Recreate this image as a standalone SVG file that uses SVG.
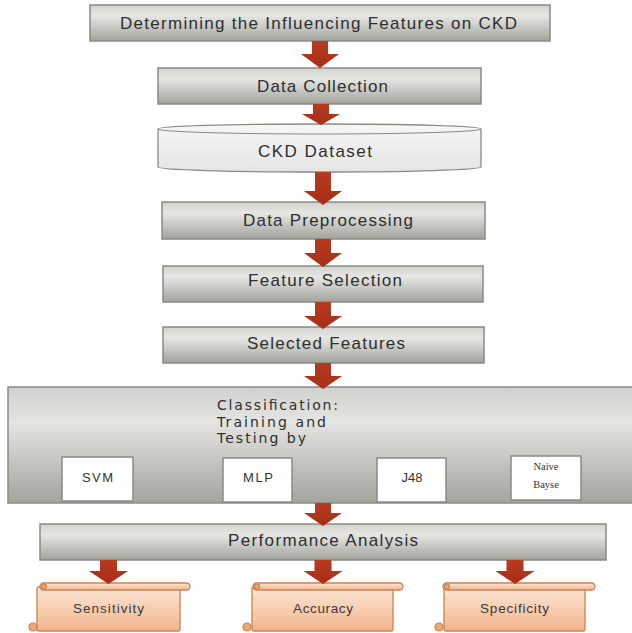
<svg xmlns="http://www.w3.org/2000/svg" width="632" height="633" viewBox="0 0 632 633">
<defs>
<linearGradient id="gBox" x1="0" y1="0" x2="0" y2="1">
<stop offset="0" stop-color="#d2d2ce"/>
<stop offset="0.3" stop-color="#e6e6e3"/>
<stop offset="1" stop-color="#a3a39d"/>
</linearGradient>
<linearGradient id="gBig" x1="0" y1="0" x2="0" y2="1">
<stop offset="0" stop-color="#d0d0cc"/>
<stop offset="0.3" stop-color="#e4e4e1"/>
<stop offset="1" stop-color="#a4a49e"/>
</linearGradient>
<linearGradient id="gCyl" x1="0" y1="0" x2="0" y2="1">
<stop offset="0" stop-color="#f7f7f7"/>
<stop offset="1" stop-color="#e4e4e4"/>
</linearGradient>
<linearGradient id="gScroll" x1="0" y1="0" x2="0" y2="1">
<stop offset="0" stop-color="#fce6d6"/>
<stop offset="1" stop-color="#f2b58c"/>
</linearGradient>
<linearGradient id="gArrow" x1="0" y1="0" x2="0" y2="1">
<stop offset="0" stop-color="#b83a1f"/>
<stop offset="1" stop-color="#a62f18"/>
</linearGradient>
</defs>
<style>
.box{fill:url(#gBox);stroke:#8a8a85;stroke-width:1.5}
.big{fill:url(#gBig);stroke:#8a8a85;stroke-width:1.5}
.wbox{fill:#ffffff;stroke:#8a8a85;stroke-width:1.5}
.cyl{fill:url(#gCyl);stroke:#8a8a85;stroke-width:1.3}
.scroll{fill:url(#gScroll);stroke:#d08050;stroke-width:1.3}
.curl{fill:#eba77c;stroke:#d08050;stroke-width:1.2}
.arr{fill:url(#gArrow)}
.t{font-family:"Liberation Sans",Arial,sans-serif;font-size:17px;fill:#2e2e2e;text-anchor:middle}
.tl{font-family:"DejaVu Sans","Liberation Sans",sans-serif;font-size:14px;fill:#2e2e2e}
.ts{font-family:"Liberation Sans",Arial,sans-serif;font-size:13px;fill:#333333;text-anchor:middle}
.tser{font-family:"Liberation Serif","Times New Roman",serif;font-size:10.5px;fill:#333333;text-anchor:middle}
.tsc{font-family:"Liberation Sans",Arial,sans-serif;font-size:13.5px;fill:#3a3a3a;text-anchor:middle}
</style>

<g id="n1">
<rect class="box" x="90" y="5" width="460" height="36"/>
<text class="t" x="318.5" y="29" textLength="397" lengthAdjust="spacing">Determining the Influencing Features on CKD</text>
</g>
<g id="n2">
<rect class="box" x="158" y="68" width="323" height="36"/>
<text class="t" x="322.5" y="92" textLength="131" lengthAdjust="spacing">Data Collection</text>
</g>
<g id="n3">
<path class="cyl" d="M158,129 A161.5,5 0 0 1 481,129 L481,167 A161.5,5 0 0 1 158,167 Z"/>
<path d="M158,129 A161.5,5 0 0 0 481,129" fill="none" stroke="#8a8a85" stroke-width="1"/>
<text class="t" x="315" y="157" textLength="114" lengthAdjust="spacing">CKD Dataset</text>
</g>
<g id="n4">
<rect class="box" x="162" y="202" width="323" height="37"/>
<text class="t" x="328" y="226" textLength="170" lengthAdjust="spacing">Data Preprocessing</text>
</g>
<g id="n5">
<rect class="box" x="163" y="266" width="320" height="36"/>
<text class="t" x="325" y="286" textLength="154" lengthAdjust="spacing">Feature Selection</text>
</g>
<g id="n6">
<rect class="box" x="163" y="327" width="321" height="36"/>
<text class="t" x="326" y="349" textLength="158" lengthAdjust="spacing">Selected Features</text>
</g>
<g id="n7">
<rect class="big" x="8" y="387" width="630" height="116"/>
<text class="tl" x="217" y="410" textLength="121" lengthAdjust="spacing">Classification:</text>
<text class="tl" x="217" y="426.5" textLength="109" lengthAdjust="spacing">Training and</text>
<text class="tl" x="217" y="443" textLength="89" lengthAdjust="spacing">Testing by</text>
</g>
<g id="svm">
<rect class="wbox" x="62" y="457" width="71" height="44"/>
<text class="ts" x="97.5" y="482" textLength="31" lengthAdjust="spacing">SVM</text>
</g>
<g id="mlp">
<rect class="wbox" x="223" y="458" width="69" height="44"/>
<text class="ts" x="258" y="482" textLength="30" lengthAdjust="spacing">MLP</text>
</g>
<g id="j48">
<rect class="wbox" x="377" y="458" width="69" height="44"/>
<text class="ts" x="412" y="482">J48</text>
</g>
<g id="nb">
<rect class="wbox" x="511" y="456" width="70" height="44"/>
<text class="tser" x="546" y="470">Naive</text>
<text class="tser" x="546" y="488">Bayse</text>
</g>
<g id="n8">
<rect class="box" x="40" y="524" width="566" height="36"/>
<text class="t" x="323" y="546" textLength="190" lengthAdjust="spacing">Performance Analysis</text>
</g>
<g id="s1">
<rect class="scroll" x="37" y="587" width="143" height="44" rx="2"/>
<rect class="scroll" x="40" y="583" width="150" height="7" rx="3.5"/>
<circle class="curl" cx="44" cy="586.5" r="2.5"/>
<circle class="curl" cx="33" cy="627" r="4"/>
<text class="tsc" x="108.5" y="613" textLength="71" lengthAdjust="spacing">Sensitivity</text>
</g>
<g id="s2">
<rect class="scroll" x="252" y="587" width="141" height="44" rx="2"/>
<rect class="scroll" x="253" y="583" width="150" height="7" rx="3.5"/>
<circle class="curl" cx="257" cy="586.5" r="2.5"/>
<circle class="curl" cx="247" cy="627" r="4"/>
<text class="tsc" x="323" y="613" textLength="60" lengthAdjust="spacing">Accuracy</text>
</g>
<g id="s3">
<rect class="scroll" x="444" y="587" width="141" height="44" rx="2"/>
<rect class="scroll" x="443" y="583" width="152" height="7" rx="3.5"/>
<circle class="curl" cx="447" cy="586.5" r="2.5"/>
<circle class="curl" cx="439" cy="627" r="4"/>
<text class="tsc" x="514.5" y="613" textLength="69" lengthAdjust="spacing">Specificity</text>
</g>

<g id="connectors">
<path class="arr" d="M312,41 H328 V54 H339 L320,68 L301,54 H312 Z"/>
<path class="arr" d="M313,104 H329 V114 H340 L321,125 L302,114 H313 Z"/>
<path class="arr" d="M315,172 H331 V191 H342 L323,205 L304,191 H315 Z"/>
<path class="arr" d="M315,239 H331 V253 H342 L323,267 L304,253 H315 Z"/>
<path class="arr" d="M315,302 H331 V316 H342 L323,329 L304,316 H315 Z"/>
<path class="arr" d="M315,363 H331 V376 H342 L323,389 L304,376 H315 Z"/>
<path class="arr" d="M315,503 H331 V513 H342 L323,526 L304,513 H315 Z"/>
<path class="arr" d="M100,560 H117 V571 H128 L108.5,584 L89,571 H100 Z"/>
<path class="arr" d="M314.5,560 H331.5 V571 H342.5 L323,584 L303.5,571 H314.5 Z"/>
<path class="arr" d="M506.5,560 H523.5 V571 H534.5 L515,584 L495.5,571 H506.5 Z"/>
</g>
</svg>
